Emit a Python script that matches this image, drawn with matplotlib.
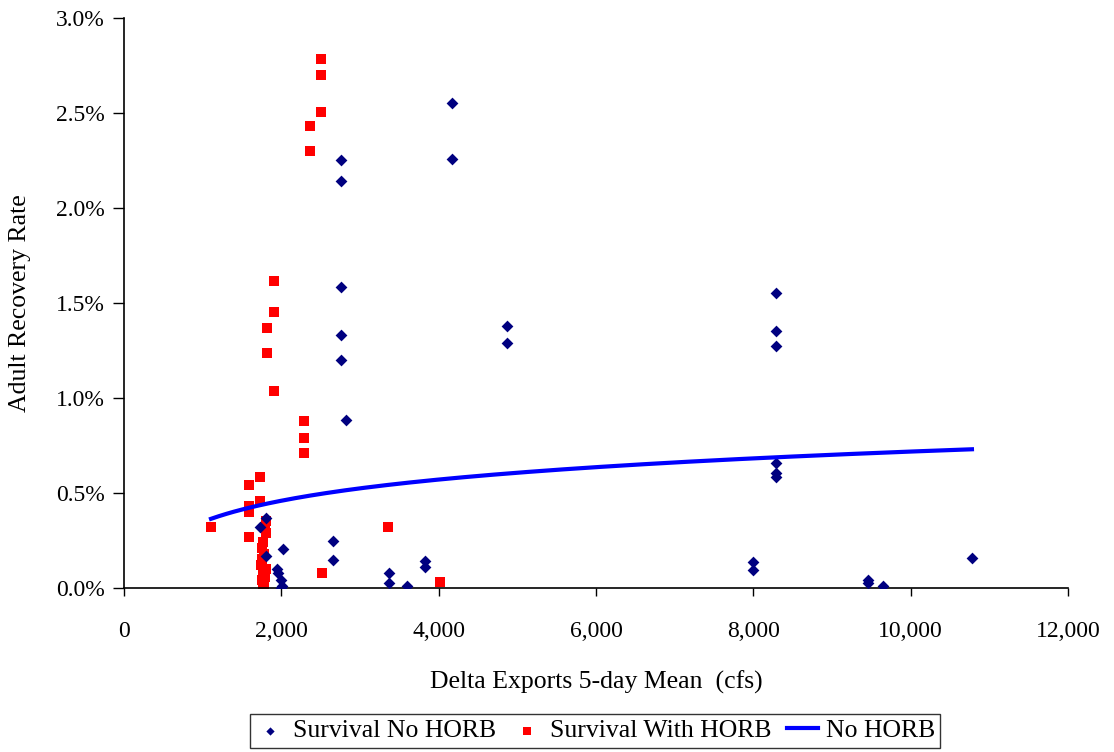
import numpy as np
import matplotlib.pyplot as plt
from matplotlib.ticker import FuncFormatter

# Survival No HORB (x: cfs, y: recovery rate in %)
no_horb_x = [4169, 4169, 2758, 2758, 2758, 2758, 2758, 2822, 4868, 4868,
             8288, 8288, 8288, 8288, 8288, 8288, 7995, 7995, 9457, 9457,
             9648, 10779, 2657, 2657, 3368, 3368, 3597, 3826, 3826,
             1729, 1805, 1805, 2021, 1945, 1960, 2000, 2010, 2000]
no_horb_y = [2.553, 2.258, 2.253, 2.142, 1.584, 1.332, 1.200, 0.884, 1.379, 1.289,
             1.553, 1.353, 1.274, 0.658, 0.605, 0.584, 0.137, 0.095, 0.040, 0.025,
             0.011, 0.158, 0.247, 0.147, 0.079, 0.026, 0.011, 0.140, 0.110,
             0.320, 0.370, 0.170, 0.205, 0.100, 0.080, 0.040, 0.010, 0.000]

# Survival With HORB
horb_x = [2504, 2504, 2504, 2364, 2364, 1907, 1907, 1818, 1818, 1907,
          2288, 2288, 2288, 3356, 2517, 4017, 1729, 1589, 1729, 1589, 1589,
          1106, 1589,
          1800, 1790, 1810, 1770, 1750, 1780, 1760, 1740, 1800, 1770, 1790,
          1760, 1780, 1770]
horb_y = [2.784, 2.700, 2.505, 2.430, 2.300, 1.616, 1.453, 1.368, 1.237, 1.037,
          0.879, 0.790, 0.710, 0.320, 0.080, 0.032, 0.584, 0.540, 0.458, 0.430, 0.400,
          0.320, 0.270,
          0.350, 0.320, 0.290, 0.240, 0.210, 0.180, 0.150, 0.120, 0.100, 0.080, 0.060,
          0.040, 0.020, 0.000]

# logarithmic trend line (No HORB): y = trend_a + trend_b * ln(x)
trend_range = [1106, 10779]
trend_a = -0.763
trend_b = 0.1608

plt.rcParams['font.family'] = ['Liberation Serif', 'DejaVu Serif']
fig = plt.figure(figsize=(11.14, 7.52), dpi=100)
ax = fig.add_axes([0.1113, 0.2181, 0.8474, 0.758])

ax.scatter(no_horb_x, no_horb_y, marker='D', s=36, color='#000080',
           linewidths=0, label='Survival No HORB', zorder=3)
ax.scatter(horb_x, horb_y, marker='s', s=55, color='#ff0000',
           linewidths=0, label='Survival With HORB', zorder=2)

tx = np.linspace(trend_range[0], trend_range[1], 200)
ax.plot(tx, trend_a + trend_b * np.log(tx), color='#0000ff', lw=3,
        label='No HORB', zorder=4)

ax.set_xlim(0, 12000)
ax.set_ylim(0, 3.0)
ax.set_xticks(range(0, 12001, 2000))
ax.set_yticks(np.arange(0, 3.01, 0.5))
ax.xaxis.set_major_formatter(FuncFormatter(lambda v, p: '{:,.0f}'.format(v)))
ax.yaxis.set_major_formatter(FuncFormatter(lambda v, p: '{:.1f}%'.format(v)))
ax.tick_params(labelsize=17, width=1.0, direction='out', colors='black')
ax.tick_params(axis='x', length=6, pad=18)
ax.tick_params(axis='y', length=8, pad=6)
ax.spines['top'].set_visible(False)
ax.spines['right'].set_visible(False)
ax.spines['left'].set_linewidth(1.2)
ax.spines['bottom'].set_linewidth(1.2)

ax.set_xlabel('Delta Exports 5-day Mean  (cfs)', fontsize=18.5, labelpad=20)
ax.set_ylabel('Adult Recovery Rate', fontsize=18.5, labelpad=18)

leg = fig.legend(loc='center', bbox_to_anchor=(0.534, 0.028), ncol=3,
                 frameon=True, fancybox=False, edgecolor='black',
                 prop={'size': 18.5},
                 handlelength=1.2, handletextpad=0.3, columnspacing=0.6,
                 borderpad=0.2, borderaxespad=0.2, markerscale=0.7)
leg.get_frame().set_linewidth(1.0)

fig.savefig('out.png', dpi=100)
